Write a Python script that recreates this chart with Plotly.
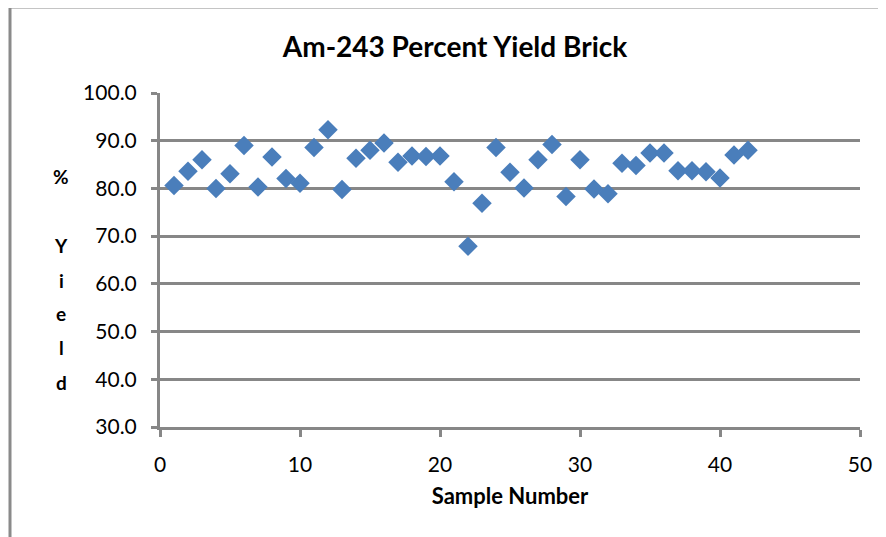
import plotly.graph_objects as go

sample = list(range(1, 43))
yield_pct = [80.6, 83.6, 86.0, 80.0, 83.1, 89.0, 80.3, 86.6, 82.1, 81.1,
             88.6, 92.3, 79.8, 86.3, 88.0, 89.5, 85.5, 86.8, 86.7, 86.8,
             81.4, 67.9, 76.9, 88.6, 83.4, 80.1, 86.0, 89.2, 78.3, 86.0,
             79.9, 78.9, 85.3, 84.8, 87.4, 87.4, 83.7, 83.7, 83.5, 82.2,
             87.0, 88.0]

title_text = "Am-243 Percent Yield Brick"
x_title = "Sample Number"
y_letters = ["%", "Y", "i", "e", "l", "d"]
y_letter_px = [176, 245, 280, 313, 347, 382]

OFF = 8  # page body margin
W, H = 886 - OFF, 537 - OFF
L, R, T, B = 160 - OFF, 26, 93 - OFF, 110
plot_h = H - T - B
plot_w = W - L - R

fig = go.Figure()
fig.add_trace(go.Scatter(
    x=sample, y=yield_pct, mode="markers",
    marker=dict(symbol="diamond", size=15, color="#4A7EBB",
                line=dict(width=0)),
    showlegend=False, cliponaxis=False))

grid_col = "#878787"
fig.update_layout(
    width=W, height=H,
    margin=dict(l=L, r=R, t=T, b=B),
    paper_bgcolor="white", plot_bgcolor="white",
    font=dict(family="Lato", color="black"),
    title=dict(text="<b>" + title_text + "</b>", x=(455 - OFF) / W, xanchor="center",
               y=1 - (47 - OFF) / H, yanchor="middle",
               font=dict(size=28, family="Lato", color="black")),
    xaxis=dict(range=[0, 50], dtick=10, tick0=0, showgrid=False,
               zeroline=False, showline=True, linecolor=grid_col, linewidth=3,
               ticks="outside", ticklen=7, tickwidth=3, tickcolor=grid_col,
               ticklabelstandoff=10,
               tickfont=dict(size=21, family="Lato"),
               title=dict(text="<b>" + x_title + "</b>", font=dict(size=22, family="Lato"),
                          standoff=14)),
    yaxis=dict(range=[30, 100], dtick=10, tick0=30, tickformat=".1f",
               showgrid=True, gridcolor=grid_col, gridwidth=3,
               zeroline=False, showline=True, linecolor=grid_col, linewidth=3,
               ticks="outside", ticklen=6, tickwidth=3, tickcolor=grid_col,
               ticklabelstandoff=10,
               tickfont=dict(size=21, family="Lato")),
)

for letter, py in zip(y_letters, y_letter_px):
    fig.add_annotation(text="<b>" + letter + "</b>", xref="paper", yref="paper",
                       x=(61 - 160) / plot_w, y=(427 - py) / plot_h,
                       xanchor="center", yanchor="middle", showarrow=False,
                       font=dict(size=19, family="Lato", color="black"))

# outer chart border (left and top edges)
bx = (10 - 160) / plot_w
by = (427 - 7) / plot_h
fig.add_shape(type="line", xref="paper", yref="paper", x0=bx, x1=bx, y0=-2, y1=by,
              line=dict(color="#8a8a8a", width=3))
fig.add_shape(type="line", xref="paper", yref="paper", x0=bx, x1=2, y0=by, y1=by,
              line=dict(color="#8a8a8a", width=3))

fig.write_html("out.html")
